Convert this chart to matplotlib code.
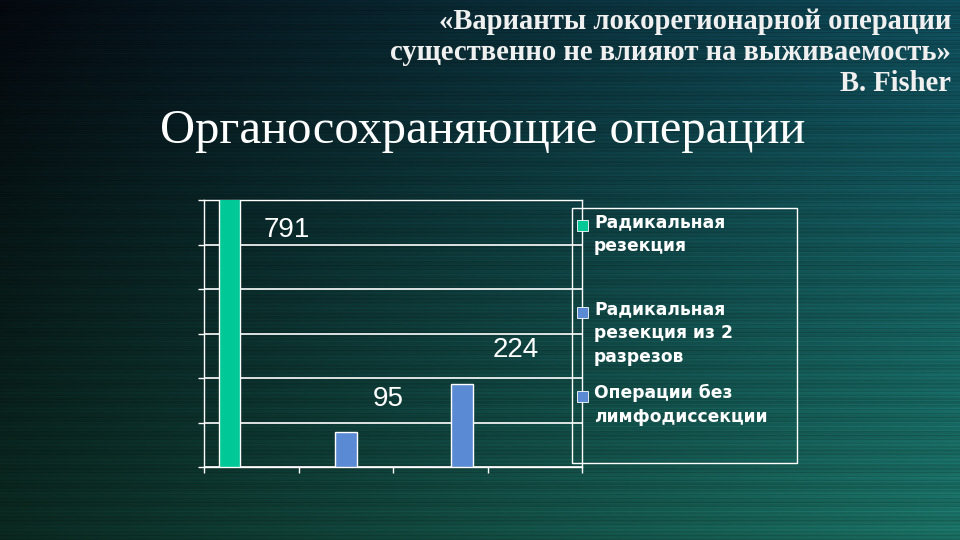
import numpy as np
import matplotlib
matplotlib.use('Agg')
import matplotlib.pyplot as plt
from matplotlib.patches import Rectangle

# data
series_names = ['Радикальная\nрезекция',
                'Радикальная\nрезекция из 2\nразрезов',
                'Операции без\nлимфодиссекции']
series_values = [791, 95, 224]
series_group = [0, 1, 2]          # category each series sits in
n_groups = 4
series_colors = ['#00C896', '#5B8AD4', '#5B8AD4']
# value labels as they appear on the slide (x in category units, y in data units)
label_texts = ['791', '95', '224']
label_x = [0.38, 1.45, 2.80]
label_y = [639, 183, 315]

title = 'Органосохраняющие операции'
quote_lines = ['«Варианты локорегионарной операции',
               'существенно не влияют на выживаемость»',
               'B. Fisher']

W, H = 960, 540
fig = plt.figure(figsize=(W / 100, H / 100), dpi=100)

# background gradient with horizontal streaks
bg = fig.add_axes([0, 0, 1, 1])
yy, xx = np.mgrid[0:1:H * 1j, 0:1:W * 1j]
tl = np.array([4, 8, 14]) / 255
tr = np.array([14, 72, 86]) / 255
bl = np.array([10, 40, 32]) / 255
br = np.array([26, 110, 98]) / 255
img = ((1 - xx)[..., None] * (1 - yy)[..., None] * tl + xx[..., None] * (1 - yy)[..., None] * tr
       + (1 - xx)[..., None] * yy[..., None] * bl + xx[..., None] * yy[..., None] * br)
rows = np.arange(H)
streak = 0.07 * np.sin(rows * 1.7) + 0.05 * np.sin(rows * 0.37 + 1.0) + 0.05 * np.sin(rows * 3.1)
img = img * (1 + streak[:, None, None])
bg.imshow(np.clip(img, 0, 1), aspect='auto', extent=[0, 1, 0, 1], origin='upper')
bg.set_axis_off()


def fx(px):
    return px / W


def fy(py):
    return 1 - py / H


# chart axes
ax = fig.add_axes([fx(204), fy(467), fx(582) - fx(204), (467 - 200) / H])
ax.set_facecolor('none')
width = 0.23
offsets = [-width, 0, width]
for i in range(len(series_values)):
    ax.bar(series_group[i] + offsets[i], series_values[i], width=width,
           color=series_colors[i], edgecolor='white', linewidth=1, zorder=3)

ax.set_xlim(-0.5, n_groups - 0.5)
ax.set_ylim(0, 720)
ax.set_yticks(np.arange(0, 721, 120))
ax.set_xticks(np.arange(-0.5, n_groups, 1.0))
ax.tick_params(colors='white', labelleft=False, labelbottom=False, length=4, width=1)
ax.grid(axis='y', color='white', linewidth=1.2, zorder=1)
for s in ax.spines.values():
    s.set_color('white')
    s.set_linewidth(1)

for t, x, y in zip(label_texts, label_x, label_y):
    ax.text(x, y, t, color='white', fontsize=20, family='Liberation Sans',
            ha='center', va='center', zorder=4)

# legend (drawn by hand so markers sit on first text line)
fig.patches.append(Rectangle((fx(572), fy(463)), fx(797) - fx(572), (463 - 208) / H,
                             transform=fig.transFigure, fill=False,
                             edgecolor='white', linewidth=1))
leg_top = [213, 300, 384]
for name, col, top in zip(series_names, series_colors, leg_top):
    fig.patches.append(Rectangle((fx(577), fy(top + 18)), 11 / W, 11 / H,
                                 transform=fig.transFigure, facecolor=col,
                                 edgecolor='white', linewidth=0.6))
    fig.text(fx(594), fy(top), name, color='white', fontsize=12.3,
             fontweight='bold', family='DejaVu Sans', va='top', ha='left',
             linespacing=1.42)

# titles
fig.text(fx(160), fy(131), title, color='white', fontsize=35,
         family='Liberation Serif', va='center', ha='left')
for i, line in enumerate(quote_lines):
    fig.text(fx(951), fy(29 + 31 * i), line, color='#F0F0F0', fontsize=20.6,
             family='Liberation Serif', fontweight='bold', ha='right', va='baseline')

fig.savefig('out.png', dpi=100)
